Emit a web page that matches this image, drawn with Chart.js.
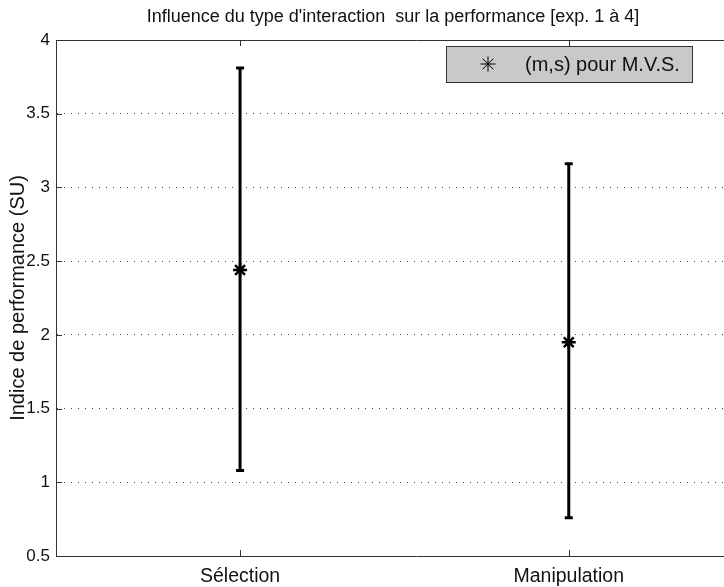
<!DOCTYPE html>
<html>
<head>
<meta charset="utf-8">
<script src="https://cdn.jsdelivr.net/npm/chart.js@4.4.0/dist/chart.umd.min.js"></script>
<style>
  body { margin: 0; overflow: hidden; background: #fff; }
  canvas { display: block; }
</style>
</head>
<body>
<canvas id="perf-chart" width="786" height="587"></canvas>
<script>
// Donnees
const categories = ['Sélection', 'Manipulation'];
const categoryPos = [1, 2];
const means = [2.44, 1.95];
const lows = [1.08, 0.76];
const highs = [3.81, 3.16];
const yTicks = [0.5, 1, 1.5, 2, 2.5, 3, 3.5, 4];
const titleText = "Influence du type d'interaction  sur la performance [exp. 1 à 4]";
const yTitle = 'Indice de performance (SU)';
const legendLabel = '(m,s) pour M.V.S.';

const FONT = "'Liberation Sans', Arial, sans-serif";
const AXIS = '#333';

// barres d'erreur: un segment vertical par categorie
const errorSets = categoryPos.map((x, i) => ({
    data: [{ x: x, y: lows[i] }, { x: x, y: highs[i] }],
    showLine: true,
    borderColor: '#000',
    borderWidth: 3,
    pointStyle: 'line',
    pointRadius: 4,
    pointBorderWidth: 3,
    pointBorderColor: '#000'
}));

const meanSet = {
    data: categoryPos.map((x, i) => ({ x: x, y: means[i] })),
    showLine: false,
    pointStyle: 'star',
    pointRadius: 7,
    pointBorderWidth: 2.5,
    pointBorderColor: '#000',
    borderColor: '#000'
};

// cadre (haut + gauche plein) + petites graduations interieures (style matlab)
const framePlugin = {
    id: 'frame',
    beforeDatasetsDraw(chart) {
        const ctx = chart.ctx;
        const ca = chart.chartArea;
        const xs = chart.scales.x;
        const ys = chart.scales.y;
        const left = Math.round(ca.left) + 0.5;
        ctx.save();
        ctx.strokeStyle = AXIS;
        ctx.lineWidth = 1;
        ctx.beginPath();
        ctx.moveTo(ca.left, Math.round(ca.top) + 0.5);
        ctx.lineTo(ca.right, Math.round(ca.top) + 0.5);
        ctx.moveTo(left, ca.top);
        ctx.lineTo(left, ca.bottom + 1);
        categoryPos.forEach(v => {
            const px = Math.round(xs.getPixelForValue(v)) + 0.5;
            ctx.moveTo(px, ca.bottom);
            ctx.lineTo(px, ca.bottom - 6);
            ctx.moveTo(px, ca.top);
            ctx.lineTo(px, ca.top + 6);
        });
        yTicks.forEach(v => {
            const py = Math.round(ys.getPixelForValue(v)) + 0.5;
            ctx.moveTo(ca.left, py);
            ctx.lineTo(ca.left + 6, py);
        });
        ctx.stroke();
        ctx.restore();
    },
    afterDraw(chart) {
        // legende grise dans le coin
        const ctx = chart.ctx;
        const ca = chart.chartArea;
        const bx = ca.left + 390, by = ca.top + 6, bw = 246, bh = 36;
        ctx.save();
        ctx.fillStyle = '#c9c9c9';
        ctx.fillRect(bx, by, bw, bh);
        ctx.strokeStyle = AXIS;
        ctx.lineWidth = 1;
        ctx.strokeRect(bx + 0.5, by + 0.5, bw, bh);
        const sx = bx + 42, sy = by + bh / 2, r = 7.5;
        ctx.strokeStyle = '#000';
        ctx.beginPath();
        for (let k = 0; k < 4; k++) {
            const a = k * Math.PI / 4;
            ctx.moveTo(sx - r * Math.cos(a), sy - r * Math.sin(a));
            ctx.lineTo(sx + r * Math.cos(a), sy + r * Math.sin(a));
        }
        ctx.stroke();
        ctx.fillStyle = '#111';
        ctx.font = '20px ' + FONT;
        ctx.textBaseline = 'middle';
        ctx.fillText(legendLabel, bx + 79, sy + 1);
        ctx.restore();
    }
};

const ctx = document.getElementById('perf-chart').getContext('2d');
const chart = new Chart(ctx, {
    type: 'scatter',
    data: { datasets: [...errorSets, meanSet] },
    options: {
        responsive: false,
        animation: false,
        layout: { padding: 0 },
        scales: {
            x: {
                type: 'linear',
                min: 0.44,
                max: 2.632,   // le cadre de droite sort de l'image
                afterBuildTicks: scale => { scale.ticks = categoryPos.map(v => ({ value: v })); },
                afterFit: scale => { scale.height = 31; },
                ticks: {
                    padding: 1,
                    color: '#111',
                    font: { family: FONT, size: 19.5 },
                    callback: v => categories[categoryPos.indexOf(v)] || ''
                },
                grid: { display: false },
                border: { display: true, color: AXIS, width: 1 }
            },
            y: {
                min: 0.5,
                max: 4,
                afterBuildTicks: scale => { scale.ticks = yTicks.map(v => ({ value: v })); },
                afterFit: scale => { scale.width = 56; },
                ticks: {
                    padding: 6,
                    color: '#111',
                    font: { family: FONT, size: 17 },
                    callback: v => String(v)
                },
                grid: {
                    drawTicks: false,
                    color: '#444',
                    lineWidth: 1
                },
                // en v4 border.dash s'applique aussi aux lignes de grille
                border: { display: true, color: AXIS, width: 1, dash: [1, 6] },
                title: {
                    display: true,
                    text: yTitle,
                    color: '#111',
                    font: { family: FONT, size: 20 },
                    padding: { top: 6, bottom: 0 }
                }
            }
        },
        plugins: {
            legend: { display: false },
            tooltip: { enabled: false },
            title: {
                display: true,
                text: titleText,
                color: '#111',
                font: { family: FONT, size: 18, weight: 'normal' },
                padding: { top: 6, bottom: 12.4 }
            }
        }
    },
    plugins: [framePlugin]
});
</script>
</body>
</html>
